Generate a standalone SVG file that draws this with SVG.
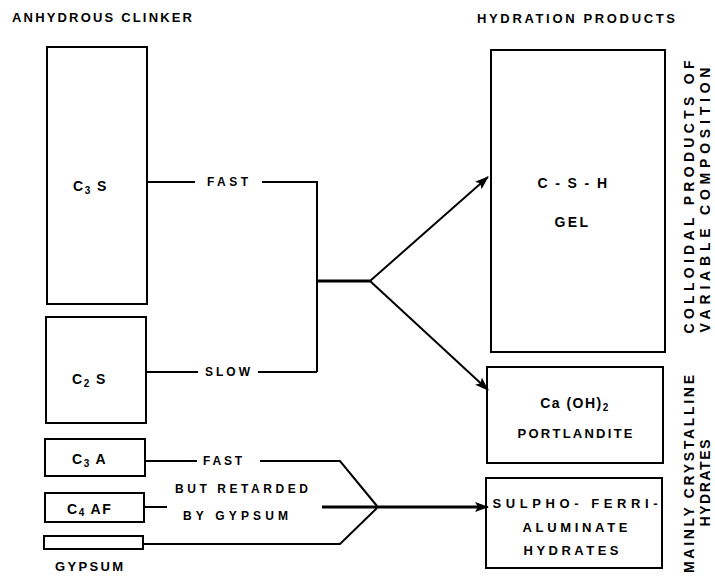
<svg xmlns="http://www.w3.org/2000/svg" width="715" height="580" viewBox="0 0 715 580">
<defs>
<marker id="ah" viewBox="0 0 14 10" refX="13" refY="5" markerWidth="14" markerHeight="10" markerUnits="userSpaceOnUse" orient="auto">
<path d="M0,0 L14,5 L0,10 L3,5 Z" fill="#000"/>
</marker>
</defs>
<style>
text{font-family:"Liberation Sans",Arial,sans-serif;font-weight:bold;fill:#000;font-size:13px}
.box{fill:none;stroke:#000;stroke-width:2}
.ln{fill:none;stroke:#000;stroke-width:2}
.thick{fill:none;stroke:#000;stroke-width:3}
.lbl{font-size:12px}
.nm{font-size:14px;letter-spacing:1.5px}
.mid{text-anchor:middle}
.sub{font-size:10px}
.vt{font-size:14px;text-anchor:middle}
</style>
<rect width="715" height="580" fill="#fff"/>
<text x="12" y="22" textLength="180" lengthAdjust="spacing">ANHYDROUS CLINKER</text>
<text x="477" y="23" textLength="198" lengthAdjust="spacing">HYDRATION PRODUCTS</text>

<g id="c3s"><rect class="box" x="47" y="47" width="100" height="257"/><text class="nm" x="73" y="191">C<tspan class="sub" dy="3">3</tspan><tspan dy="-3"> S</tspan></text></g>
<g id="c2s"><rect class="box" x="46" y="317" width="100" height="106"/><text class="nm" x="72" y="384">C<tspan class="sub" dy="3">2</tspan><tspan dy="-3"> S</tspan></text></g>
<g id="c3a"><rect class="box" x="45" y="439" width="100" height="37"/><text class="nm" x="72" y="464">C<tspan class="sub" dy="3">3</tspan><tspan dy="-3"> A</tspan></text></g>
<g id="c4af"><rect class="box" x="45" y="493" width="99" height="29"/><text class="nm" x="67" y="514">C<tspan class="sub" dy="2">4</tspan><tspan dy="-2"> AF</tspan></text></g>
<g id="gypsum"><rect class="box" x="44" y="536" width="99" height="13"/><text x="55" y="571" textLength="68" lengthAdjust="spacing">GYPSUM</text></g>

<g id="csh"><rect class="box" x="491" y="50" width="174" height="302"/><text class="mid nm" x="573" y="188" textLength="71" lengthAdjust="spacing">C - S - H</text><text class="mid nm" x="572" y="227" textLength="35" lengthAdjust="spacing">GEL</text></g>
<g id="portlandite"><rect class="box" x="487" y="367" width="176" height="96"/><text class="mid nm" x="575" y="408">Ca (OH)<tspan class="sub" dy="3">2</tspan></text><text class="mid" x="575" y="438" textLength="115" lengthAdjust="spacing">PORTLANDITE</text></g>
<g id="sulpho"><rect class="box" x="486" y="478" width="176" height="90"/><text class="mid" x="575" y="508" textLength="165" lengthAdjust="spacing">SULPHO- FERRI-</text><text class="mid" x="575" y="532" textLength="105" lengthAdjust="spacing">ALUMINATE</text><text class="mid" x="571" y="555" textLength="95" lengthAdjust="spacing">HYDRATES</text></g>

<g id="side-labels">
<text class="vt" transform="translate(694,197) rotate(-90)" textLength="273" lengthAdjust="spacing">COLLOIDAL PRODUCTS OF</text>
<text class="vt" transform="translate(710,200) rotate(-90)" textLength="265" lengthAdjust="spacing">VARIABLE COMPOSITION</text>
<text class="vt" transform="translate(694,474) rotate(-90)" textLength="198" lengthAdjust="spacing">MAINLY CRYSTALLINE</text>
<text class="vt" transform="translate(710,483) rotate(-90)" textLength="87" lengthAdjust="spacing">HYDRATES</text>
</g>

<g id="connectors">
<path class="ln" d="M147,182 H195 M262,182 H317 V372 M147,372 H198 M258,372 H317"/>
<path class="thick" d="M317,281 H370"/>
<path class="ln" d="M370,281 L488,177" marker-end="url(#ah)"/>
<path class="ln" d="M370,281 L488,390" marker-end="url(#ah)"/>
<path class="ln" d="M145,461 H197 M260,461 H340 L377,506 M145,507 H167 M143,544 H340 L377,508"/>
<path class="thick" d="M322,507 H478"/>
<path class="ln" d="M470,507 H488" marker-end="url(#ah)"/>
<text class="lbl" x="207" y="186" textLength="41" lengthAdjust="spacing">FAST</text>
<text class="lbl" x="205" y="376" textLength="45" lengthAdjust="spacing">SLOW</text>
<text class="lbl" x="203" y="465" textLength="39" lengthAdjust="spacing">FAST</text>
<text class="lbl" x="175" y="493" textLength="133" lengthAdjust="spacing">BUT RETARDED</text>
<text class="lbl" x="183" y="520" textLength="105" lengthAdjust="spacing">BY GYPSUM</text>
</g>
</svg>
